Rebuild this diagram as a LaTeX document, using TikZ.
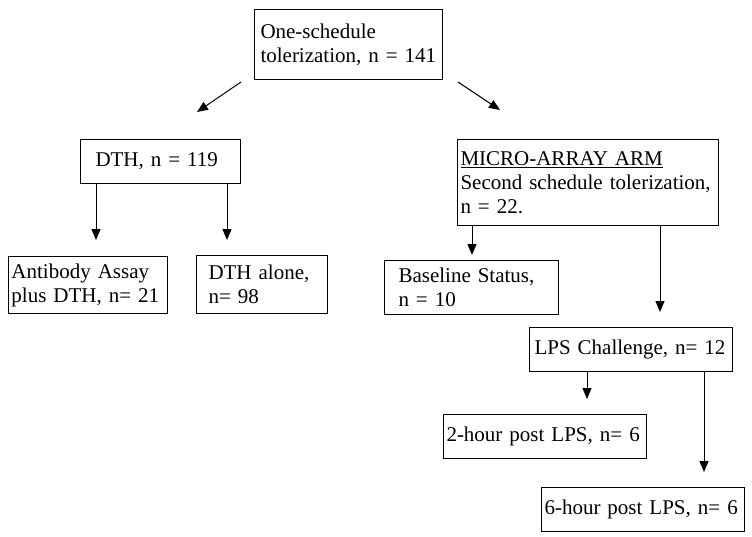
\documentclass[tikz,border=0pt]{standalone}
\usepackage{fontspec}
\setmainfont{Liberation Serif}
\usetikzlibrary{arrows.meta}
\tikzset{
  box/.style={draw, line width=1pt, anchor=north west, align=left,
    font=\fontsize{21}{24}\selectfont},
  arr/.style={line width=1pt, -{Triangle[length=11pt,width=9pt]}}
}
\begin{document}
\begin{tikzpicture}[x=1pt,y=-1pt]
\useasboundingbox (0,0) rectangle (752,536);
% boxes
\node[box, inner xsep=6pt, text width=176pt, minimum height=70pt] (tol) at (254,9) {One-schedule\\tolerization, n = 141};
\node[box, inner xsep=15pt, text width=130pt, minimum height=44pt] (dth) at (80,139) {DTH, n = 119};
\node[box, inner xsep=3pt, text width=153pt, minimum height=57pt] (ab) at (8,256) {Antibody Assay\\plus DTH, n= 21};
\node[box, inner xsep=12pt, text width=107pt, minimum height=58pt] (alone) at (196,255) {DTH alone,\\n= 98};
\node[box, inner xsep=3pt, text width=255pt, minimum height=86pt] (micro) at (457,139) {\underline{MICRO-ARRAY ARM}\\Second schedule tolerization,\\n = 22.};
\node[box, inner xsep=14pt, text width=146pt, minimum height=54pt] (base) at (384,260) {Baseline Status,\\n = 10};
\node[box, inner xsep=5pt, text width=193pt, minimum height=44pt] (lps) at (529,327) {LPS Challenge, n= 12};
\node[box, inner xsep=3pt, text width=197pt, minimum height=44pt] (two) at (443,414) {2-hour post LPS, n= 6};
\node[box, inner xsep=3pt, text width=197pt, minimum height=44pt] (six) at (541,487) {6-hour post LPS, n= 6};
% arrows
\coordinate (lt) at (197,112);
\coordinate (rt) at (500,110);
\draw[arr] ([shift={(-13,2)}]tol.south west) -- (lt);
\draw[arr] ([shift={(15,2)}]tol.south east) -- (rt);
\draw[arr, shorten >=16pt] ([xshift=16pt]dth.south west) -- ([xshift=16pt]dth.south west |- ab.north);
\draw[arr, shorten >=15pt] ([xshift=-14pt]dth.south east) -- ([xshift=-14pt]dth.south east |- alone.north);
\draw[arr, shorten >=5pt] ([xshift=15pt]micro.south west) -- ([xshift=15pt]micro.south west |- base.north);
\draw[arr, shorten >=15pt] ([xshift=-59pt]micro.south east) -- ([xshift=-59pt]micro.south east |- lps.north);
\draw[arr, shorten >=15pt] ([xshift=58pt]lps.south west) -- ([xshift=58pt]lps.south west |- two.north);
\draw[arr, shorten >=15pt] ([xshift=-29pt]lps.south east) -- ([xshift=-29pt]lps.south east |- six.north);
\end{tikzpicture}
\end{document}
